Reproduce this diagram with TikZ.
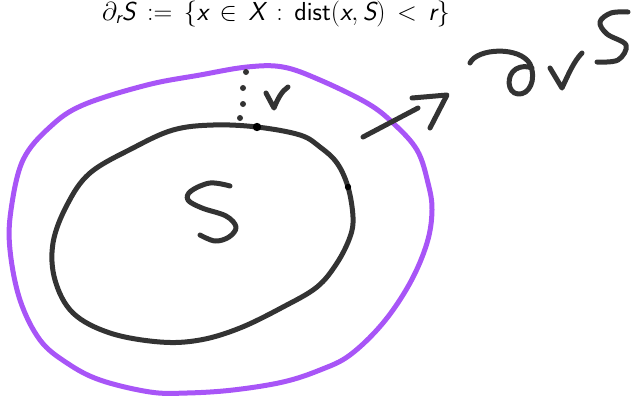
\RequirePackage{fix-cm}
\documentclass[tikz,border=0pt]{standalone}
\usepackage{amsmath}
\newcommand{\sfit}[1]{\text{\sffamily\itshape #1}}
\definecolor{halo}{HTML}{A855F7}
\definecolor{ink}{HTML}{333333}
\begin{document}
\begin{tikzpicture}[x=1pt,y=-1pt,
  pen/.style={draw=ink,line width=5pt,line cap=round,line join=round},
  halopen/.style={draw=halo,line width=5pt,line cap=round,line join=round},
  blob/.style={fill=ink}]
\useasboundingbox (0,0) rectangle (635,400);
% title
\node[font=\fontsize{26}{30}\selectfont,inner sep=0pt,anchor=base] (title) at (276,20)
  {$\thickmuskip=8mu\partial_{\sfit{r}}\sfit{S} \mathrel{\mathsf{:=}} \{\sfit{x} \in \sfit{X} : \mathsf{dist}(\sfit{x}, \sfit{S}) < \sfit{r}\}$};
% outer purple region
\draw[halopen] plot[smooth cycle,tension=0.6] coordinates {
  (247,67) (283,67) (320,80) (367,103) (393,123) (417,150) (428,183) (432,210)
  (427,243) (410,283) (383,323) (350,355) (320,370) (283,382) (233,390) (187,393)
  (150,392) (100,380) (67,363) (40,340) (20,300) (10,250) (11,210) (23,160)
  (50,127) (83,105) (147,85) (200,75)};
% inner set S
\draw[pen] plot[smooth cycle,tension=0.6] coordinates {
  (213,125) (257,127) (300,135) (320,147) (337,163) (348,187) (353,217) (350,237)
  (337,263) (317,287) (283,307) (240,328) (200,340) (160,342) (110,333) (73,313)
  (55,280) (53,243) (67,205) (90,173) (133,148) (173,130)};
% dots for r
\foreach \p in {(246,72),(243,88),(243,104),(240,118)} \fill[ink] \p circle (3);
\fill[black] (257,127) circle (4.2);
\fill[black] (348,187) circle (3.2);
% r
\draw[pen] (266,93) -- (274,108) .. controls (278,98) and (282,91) .. (288,87);
% S label
\draw[pen] plot[smooth,tension=0.6] coordinates {
  (230,186) (210,183) (191,191) (188,200) (202,208) (226,216) (236,227) (229,237) (215,241) (200,235)};
% arrow
\draw[pen] (363,137) -- (418,108);
\draw[pen] (412,98) -- (447,95) -- (430,128);
% handwritten boundary symbol
\draw[pen] (470,63) .. controls (477,48) and (520,46) .. (530,64)
  .. controls (537,80) and (529,95) .. (518,94)
  .. controls (507,93) and (506,75) .. (516,69)
  .. controls (521,66) and (527,66) .. (532,68);
\draw[pen] (550,68) -- (562,88) .. controls (568,75) and (574,61) .. (582,53);
\draw[pen] plot[smooth,tension=0.6] coordinates {
  (628,12) (611,13) (600,22) (607,34) (626,45) (618,60) (597,62)};
\end{tikzpicture}
\end{document}
